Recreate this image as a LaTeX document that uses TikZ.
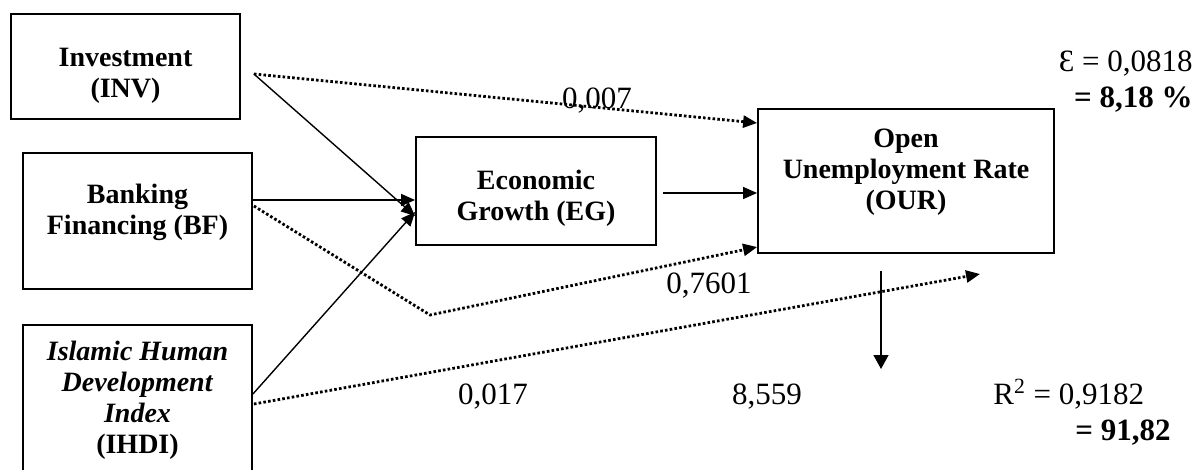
\documentclass[tikz,border=0pt]{standalone}
\usepackage{fontspec}
\setmainfont{Liberation Serif}
\usetikzlibrary{arrows.meta}

% struts that push box text down or up
\newcommand{\toppad}[1]{\rule{0pt}{#1}}
\newcommand{\lowpad}[1]{\rule[-#1]{0pt}{#1}}

\begin{document}
\begin{tikzpicture}[x=0.5pt,y=-0.5pt,>={Triangle[length=7pt,width=6pt]},
  var node/.style={draw,line width=0.9pt,align=center,inner sep=0pt,font=\fontsize{14}{15.5}\selectfont\bfseries},
  coef/.style={font=\fontsize{15.5}{18}\selectfont,inner sep=0pt},
  path line/.style={->,line width=0.7pt},
  dot line/.style={->,line width=1.4pt,dash pattern=on 1.3pt off 1.1pt}]

  \useasboundingbox (0,0) rectangle (1197,470);

  \node[var node,minimum width=114.5pt,minimum height=52.5pt] (inv) at (125.5,66.5) {\toppad{18pt}Investment\\(INV)};
  \node[var node,minimum width=114.5pt,minimum height=68pt] (bf) at (137.5,221) {Banking\\Financing (BF)\lowpad{12pt}};
  \node[var node,minimum width=114.5pt,minimum height=75pt] (ihdi) at (137.5,400)
    {\textit{Islamic Human}\\\textit{Development}\\\textit{Index}\\(IHDI)};
  \node[var node,minimum width=120pt,minimum height=54pt] (eg) at (536,191) {\toppad{17pt}Economic\\Growth (EG)};
  \node[var node,minimum width=148pt,minimum height=72pt] (our) at (906,181) {Open\\Unemployment Rate\\(OUR)\lowpad{12pt}};

  \coordinate (bf bend) at (430,315);
  \coordinate (ihdi end) at (980,274);
  \coordinate (our down) at (881,369);

  % paths to economic growth
  \draw[path line] ([shift={(13,7.5)}]inv.east) -- ([shift={(0,25)}]eg.west);
  \draw[path line] ([shift={(0,-21)}]bf.east) -- ([shift={(0,9)}]eg.west);
  \draw[path line] ([shift={(0,-6)}]ihdi.east) -- ([shift={(0,21)}]eg.west);
  \draw[path line] ([shift={(6,2)}]eg.east) -- ([shift={(0,12)}]our.west);

  % indirect paths
  \draw[dot line] ([shift={(13,7.5)}]inv.east) -- ([shift={(0,-58)}]our.west);
  \draw[dot line] ([shift={(1,-15)}]bf.east) -- (bf bend) -- ([shift={(0,66)}]our.west);
  \draw[dot line] ([shift={(1,4)}]ihdi.east) -- (ihdi end);
  \draw[path line,>={Triangle[length=7pt,width=7.5pt]}] ([shift={(-25,17)}]our.south) -- (our down);

  \node[coef,anchor=base] (c inv) at (597,109) {0,007};
  \node[coef,anchor=base] (c bf) at (709,293) {0,7601};
  \node[coef,anchor=base] (c ihdi) at (493,404) {0,017};
  \node[coef,anchor=base] (c eg) at (767,404) {8,559};

  \node[coef,anchor=base east] (eps) at (1193,72) {Ɛ = 0,0818};
  \node[coef,anchor=base east] (eps pct) at (1193,108) {\textbf{= 8,18 \%}};
  \node[coef,anchor=base west] (r2) at (993,404) {R\textsuperscript{2} = 0,9182};
  \node[coef,anchor=base west] (r2 pct) at (1075,440) {\textbf{= 91,82}};
\end{tikzpicture}
\end{document}
